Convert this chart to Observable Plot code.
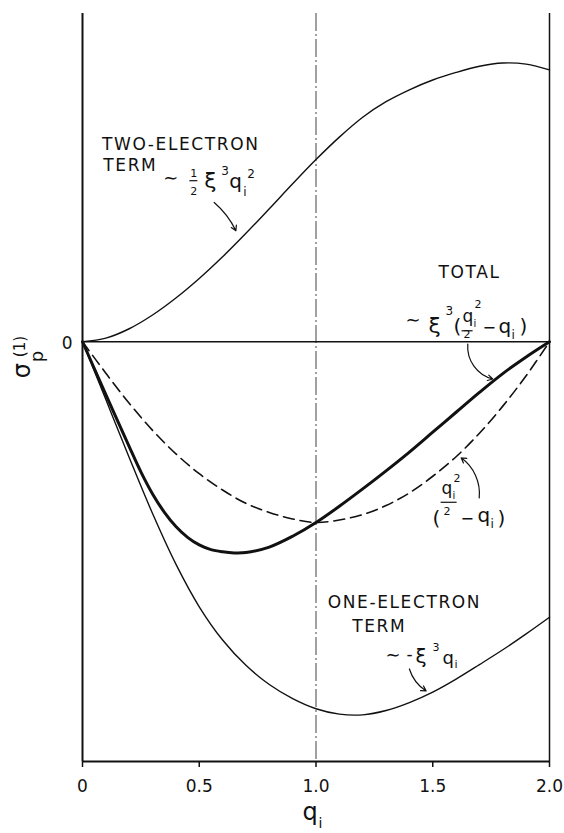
<!DOCTYPE html>
<html><head><meta charset="utf-8">
<script src="https://cdn.jsdelivr.net/npm/d3@7"></script>
<script src="https://cdn.jsdelivr.net/npm/@observablehq/plot@0.6"></script>
<style>html,body{margin:0;padding:0;background:#fff;overflow:hidden}</style>
</head><body><div id="chart"></div>
<script>
// ---- axes / ticks ----
const xDomain = [0, 2];
const yDomain = [-1.161, 0.908];
const xTicks = [0, 0.5, 1, 1.5, 2];
const xTickLabels = ["0", "0.5", "1.0", "1.5", "2.0"];
const yTicks = [0];
const yTickLabels = ["0"];

// ---- series ----
const gridQ = [0, 0.1, 0.2, 0.3, 0.4, 0.5, 0.6, 0.7, 0.8, 0.9, 1.0, 1.1, 1.2, 1.3, 1.4, 1.5, 1.6, 1.7, 1.8, 1.9, 2.0];
const twoElectron = [0, 0.010, 0.036, 0.074, 0.121, 0.175, 0.235, 0.300, 0.368, 0.437, 0.504, 0.566, 0.621, 0.664, 0.697, 0.724, 0.745, 0.762, 0.771, 0.768, 0.752];
const oneElectron = [0, -0.16, -0.32, -0.475, -0.615, -0.733, -0.825, -0.895, -0.948, -0.987, -1.015, -1.03, -1.032, -1.02, -0.998, -0.969, -0.933, -0.893, -0.852, -0.808, -0.762];
const dashedTerm = [0, -0.087, -0.17, -0.245, -0.31, -0.365, -0.41, -0.447, -0.472, -0.49, -0.5, -0.493, -0.478, -0.453, -0.418, -0.372, -0.318, -0.253, -0.178, -0.094, 0];
const totalQ = [0, 0.1, 0.2, 0.25, 0.3, 0.35, 0.4, 0.45, 0.5, 0.55, 0.6, 0.65, 0.7, 0.8, 0.9, 1.0, 1.1, 1.2, 1.3, 1.4, 1.5, 1.6, 1.7, 1.8, 1.9, 2.0];
const totalV = [0, -0.146, -0.29, -0.36, -0.421, -0.471, -0.511, -0.541, -0.562, -0.575, -0.581, -0.584, -0.583, -0.568, -0.538, -0.5, -0.455, -0.407, -0.357, -0.305, -0.25, -0.195, -0.14, -0.088, -0.042, 0];

// ---- annotation anchors (data coordinates) ----
const labelText = ["TWO-ELECTRON", "TERM", "TOTAL", "ONE-ELECTRON", "TERM"];
const labelQ = [0.0857, 0.0913, 1.527, 1.0527, 1.1573];
const labelV = [0.5285, 0.4704, 0.1743, -0.7388, -0.8052];
const arrowsQ1 = [0.564, 1.650, 1.699, 1.400];
const arrowsV1 = [0.3854, -0.0064, -0.4317, -0.905];
const arrowsQ2 = [0.657, 1.757, 1.6216, 1.4715];
const arrowsV2 = [0.307, -0.103, -0.321, -0.9657];
const arrowsBend = [12, -40, -30, -20];

const two = gridQ.map((q, i) => ({q, v: twoElectron[i]}));
const one = gridQ.map((q, i) => ({q, v: oneElectron[i]}));
const dash = gridQ.map((q, i) => ({q, v: dashedTerm[i]}));
const total = totalQ.map((q, i) => ({q, v: totalV[i]}));

const ink = "#111";
const arrowMarks = arrowsQ1.map((q1, i) => Plot.arrow([{q1, v1: arrowsV1[i], q2: arrowsQ2[i], v2: arrowsV2[i]}],
  {x1: "q1", y1: "v1", x2: "q2", y2: "v2", bend: arrowsBend[i], stroke: ink, strokeWidth: 1.2, headLength: 7}));

const chart = Plot.plot({
  width: 564, height: 833,
  marginTop: 13, marginBottom: 72, marginLeft: 82, marginRight: 15,
  x: {domain: xDomain},
  y: {domain: yDomain},
  style: {fontFamily: "DejaVu Sans", fontSize: "17px", color: ink, background: "#fff"},
  marks: [
    Plot.ruleX([1], {stroke: ink, strokeWidth: 0.8, strokeDasharray: "18,3,2,3"}),
    Plot.ruleY([0], {stroke: ink, strokeWidth: 1.3}),
    Plot.ruleX([xDomain[0]], {stroke: ink, strokeWidth: 2}),
    Plot.ruleX([xDomain[1]], {stroke: ink, strokeWidth: 1.5}),
    Plot.ruleY([yDomain[0]], {stroke: ink, strokeWidth: 2}),
    Plot.axisX({ticks: xTicks, tickFormat: d => xTickLabels[xTicks.indexOf(d)], tickSize: 6, tickPadding: 12, strokeWidth: 1.5, label: null, fontSize: 17}),
    Plot.axisY({ticks: yTicks, tickFormat: d => yTickLabels[yTicks.indexOf(d)], tickSize: 0, tickPadding: 10, label: null, fontSize: 17, dy: 2}),
    Plot.line(dash, {x: "q", y: "v", stroke: ink, strokeWidth: 1.6, strokeDasharray: "11,6", curve: "catmull-rom"}),
    Plot.line(two, {x: "q", y: "v", stroke: ink, strokeWidth: 1.4, curve: "catmull-rom"}),
    Plot.line(one, {x: "q", y: "v", stroke: ink, strokeWidth: 1.4, curve: "catmull-rom"}),
    Plot.line(total, {x: "q", y: "v", stroke: ink, strokeWidth: 3, curve: "catmull-rom"}),
    ...arrowMarks
  ]
});
document.getElementById("chart").appendChild(chart);

const sx = chart.scale("x"), sy = chart.scale("y");
const svg = d3.select(chart);
const ann = svg.append("g").attr("font-family", "DejaVu Sans").attr("fill", ink).attr("text-anchor", "start");

// plain word labels
labelText.forEach((t, i) => {
  ann.append("text").attr("x", sx.apply(labelQ[i])).attr("y", sy.apply(labelV[i]))
    .attr("font-size", 17).attr("letter-spacing", "1.6px").text(t);
});

// formulas with sub/superscripts; parts are offsets from the anchor
function formula(q, v, parts, rotate) {
  const g = ann.append("g").attr("transform", `translate(${sx.apply(q)},${sy.apply(v)})` + (rotate ? ` rotate(${rotate})` : ""));
  for (const p of parts) {
    if (p.bar) g.append("line").attr("x1", p.x).attr("x2", p.x2).attr("y1", p.y).attr("y2", p.y).attr("stroke", ink).attr("stroke-width", 1.2);
    else g.append("text").attr("x", p.x).attr("y", p.y).attr("font-size", p.s).text(p.t);
  }
}

// two-electron: ~ 1/2 ξ^3 q_i^2
formula(0.3485, 0.4234, [
  {t: "\u223C", x: 0, y: -4, s: 18},
  {t: "1", x: 27, y: -11, s: 11},
  {bar: true, x: 26, x2: 34, y: -7.5},
  {t: "2", x: 27, y: 7, s: 11},
  {t: "\u03BE", x: 41, y: 0, s: 22},
  {t: "3", x: 58, y: -13, s: 12},
  {t: "q", x: 66, y: 0, s: 20},
  {t: "i", x: 80, y: 8, s: 12},
  {t: "2", x: 84, y: -10, s: 12}
]);

// total: ~ ξ^3 ( q_i^2 / 2 − q_i )
formula(1.3858, 0.0221, [
  {t: "\u223C", x: 0, y: -7, s: 18},
  {t: "\u03BE", x: 23, y: 0, s: 22},
  {t: "3", x: 40, y: -18, s: 12},
  {t: "(", x: 48, y: 0, s: 20},
  {t: "q", x: 57, y: -11, s: 17},
  {t: "i", x: 68, y: -6, s: 10},
  {t: "2", x: 69, y: -25, s: 11},
  {bar: true, x: 56, x2: 67, y: -2.5},
  {t: "2", x: 58, y: 5, s: 11},
  {t: "\u2212", x: 77, y: 0, s: 16},
  {t: "q", x: 93, y: 0, s: 20},
  {t: "i", x: 106, y: 6, s: 12},
  {t: ")", x: 114, y: 0, s: 20}
]);

// dashed: ( q_i^2 / 2 − q_i )
formula(1.5015, -0.509, [
  {t: "(", x: 0, y: 0, s: 20},
  {t: "q", x: 9, y: -31, s: 17},
  {t: "i", x: 20, y: -26, s: 10},
  {t: "2", x: 21, y: -43, s: 11},
  {bar: true, x: 8, x2: 24, y: -23},
  {t: "2", x: 11, y: -10, s: 11},
  {t: "\u2212", x: 28, y: -1, s: 16},
  {t: "q", x: 45, y: -3, s: 20},
  {t: "i", x: 58, y: 3, s: 12},
  {t: ")", x: 65, y: 0, s: 20}
]);

// one-electron: ~ −ξ^3 q_i
formula(1.300, -0.8937, [
  {t: "\u223C", x: 0, y: -3, s: 18},
  {t: "-", x: 21, y: -4, s: 17},
  {t: "\u03BE", x: 30, y: -1, s: 20},
  {t: "3", x: 47, y: -13, s: 11},
  {t: "q", x: 57, y: 0, s: 18},
  {t: "i", x: 69, y: 4, s: 11}
]);

// y-axis label σ_p^(1), rotated
formula(-0.2216, -0.102, [
  {t: "\u03C3", x: 0, y: 0, s: 24},
  {t: "p", x: 16, y: 13, s: 18},
  {t: "(1)", x: 21, y: -5, s: 15}
], -90);

// x-axis label q_i
formula(0.944, -1.325, [
  {t: "q", x: 0, y: 0, s: 24},
  {t: "i", x: 16, y: 8, s: 14}
]);
</script>
</body></html>
